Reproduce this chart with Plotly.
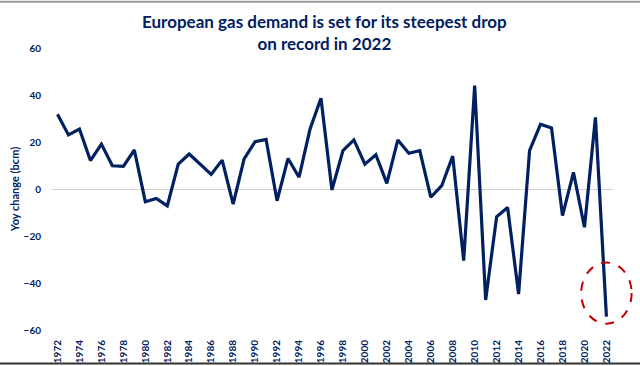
import plotly.graph_objects as go

years = list(range(1972, 2023))
yoy_change = [31.8, 23.0, 25.5, 12.1, 19.1, 9.9, 9.6, 16.6, -5.4, -4.0,
              -7.2, 10.6, 14.9, 10.5, 6.2, 12.3, -6.4, 12.8, 20.1, 21.1,
              -5.0, 13.0, 5.0, 25.4, 38.6, -0.4, 16.3, 20.9, 10.6, 14.6,
              2.4, 20.9, 15.2, 16.3, -3.5, 1.4, 14.0, -30.5, 44.0, -47.2,
              -11.8, -7.9, -44.7, 16.3, 27.6, 26.0, -11.3, 7.1, -16.3, 30.5,
              -54.3]
tick_years = list(range(1972, 2023, 2))
y_ticks = [-60, -40, -20, 0, 20, 40, 60]

title_text = "European gas demand is set for its steepest drop<br>on record in 2022"
y_title = "Yoy change (bcm)"

navy = "#002060"
font_family = "Lato, 'Noto Sans', sans-serif"

x_range = [1971.5, 2022.6]
y_range = [-60, 60]

fig = go.Figure()
fig.add_trace(go.Scatter(
    x=years, y=yoy_change, mode="lines",
    line=dict(color=navy, width=3.2),
    hoverinfo="x+y", showlegend=False,
))


def to_frac(v, r):
    return (v - r[0]) / (r[1] - r[0])


# highlight ellipse around the final (2022) drop (paper refs so it is not clipped)
hx, hy = years[-1], yoy_change[-1]
fig.add_shape(type="circle", xref="paper", yref="paper",
              x0=to_frac(hx - 2.3, x_range), x1=to_frac(hx + 2.3, x_range),
              y0=to_frac(hy - 3.0, y_range), y1=to_frac(hy + 23.0, y_range),
              line=dict(color="#C00000", width=2, dash="dash"))

# frame lines (top and bottom of the picture)
fig.add_shape(type="line", xref="paper", yref="paper", x0=-0.2, x1=1.2, y0=1.164, y1=1.164,
              line=dict(color="#999999", width=2))
fig.add_shape(type="line", xref="paper", yref="paper", x0=-0.2, x1=1.2, y0=-0.119, y1=-0.119,
              line=dict(color="#333333", width=2))

fig.add_annotation(text=title_text, xref="paper", yref="paper", x=0.485, y=1.138,
                   xanchor="center", yanchor="top", showarrow=False, align="center",
                   font=dict(size=17, family=font_family, color=navy, weight="bold"))

fig.update_layout(
    width=640, height=366,
    margin=dict(l=52, r=27, t=48, b=36, autoexpand=False),
    paper_bgcolor="white", plot_bgcolor="white",
    font=dict(family=font_family, color=navy),
    xaxis=dict(
        range=x_range, tickmode="array", tickvals=tick_years,
        ticktext=[str(y) for y in tick_years], tickangle=-90,
        tickfont=dict(size=10, color=navy, weight="bold"),
        showgrid=False, zeroline=False, showline=False, automargin=False,
        ticks="outside", ticklen=5, tickcolor="rgba(0,0,0,0)",
    ),
    yaxis=dict(
        range=y_range, tickmode="array", tickvals=y_ticks,
        tickfont=dict(size=10, color=navy, weight="bold"),
        showgrid=False, zeroline=True, zerolinecolor="#D0D0D0", zerolinewidth=1,
        showline=False, automargin=False, ticks="outside", ticklen=8,
        tickcolor="rgba(0,0,0,0)",
        title=dict(text=y_title, standoff=1,
                   font=dict(size=11, color=navy, weight="bold")),
    ),
)

fig.write_html("out.html", config={"displayModeBar": False},
               post_script="document.body.style.margin='0px';document.body.style.overflow='hidden';")
